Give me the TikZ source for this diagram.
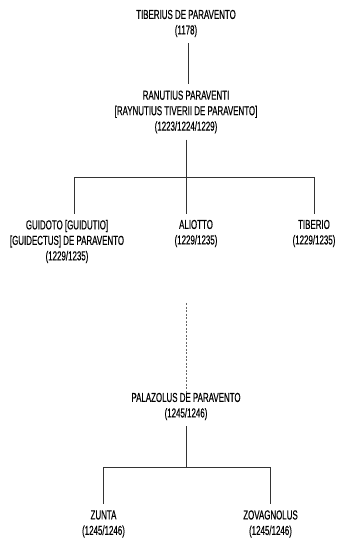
\documentclass[tikz,border=0pt]{standalone}
\usepackage{fontspec}
\setmainfont{Liberation Sans}[FakeStretch=0.61, FakeBold=0.4]
\usetikzlibrary{calc}

\begin{document}
\begin{tikzpicture}[x=1pt, y=-1pt]
    \tikzset{
        person/.style={align=center, inner xsep=0pt, inner ysep=6pt, font=\fontsize{13}{15.5}\selectfont},
        kin/.style={line width=0.9pt, color=black!80},
        unsure/.style={line width=0.9pt, color=black!60, dash pattern=on 2pt off 1.5pt}
    }
    \useasboundingbox (0,0) rectangle (341,543);
    % First generation
    \node[person] (tiberius) at (186, 23.5) {TIBERIUS DE PARAVENTO\\(1178)};
    \node[person] (ranutius) at (186, 112) {RANUTIUS PARAVENTI\\[0pt][RAYNUTIUS TIVERII DE PARAVENTO]\\(1223/1224/1229)};
    \draw[kin] (tiberius.south -| 188,0) -- (ranutius.north -| 188,0);
    % Sons of Ranutius
    \node[person] (guidoto) at (67, 241.5) {GUIDOTO [GUIDUTIO]\\[0pt][GUIDECTUS] DE PARAVENTO\\(1229/1235)};
    \node[person] (aliotto) at (196, 233.5) {ALIOTTO\\(1229/1235)};
    \node[person] (tiberio) at (314, 233.5) {TIBERIO\\(1229/1235)};
    \coordinate (forkA) at (74, 177);
    \coordinate (forkB) at (186, 177);
    \coordinate (forkC) at (314, 177);
    \draw[kin] (ranutius.south -| forkB) -- (forkB);
    \draw[kin] (forkA) -- (forkC);
    \draw[kin] (forkA) -- (forkA |- guidoto.north);
    \draw[kin] (forkB) -- (forkB |- aliotto.north);
    \draw[kin] (forkC) -- (forkC |- tiberio.north);
    % Gap in the line
    \node[person] (palazolus) at (186, 406.5) {PALAZOLUS DE PARAVENTO\\(1245/1246)};
    \coordinate (gap) at (186, 303);
    \draw[unsure] (gap) -- ([yshift=-6pt]palazolus.north);
    % Sons of Palazolus
    \node[person] (zunta) at (103.5, 524) {ZUNTA\\(1245/1246)};
    \node[person] (zovagnolus) at (270.5, 524) {ZOVAGNOLUS\\(1245/1246)};
    \coordinate (forkD) at (103, 467);
    \coordinate (forkE) at (186, 467);
    \coordinate (forkF) at (270, 467);
    \draw[kin] (palazolus.south) -- (forkE);
    \draw[kin] (forkD) -- (forkF);
    \draw[kin] (forkD) -- (forkD |- zunta.north);
    \draw[kin] (forkF) -- (forkF |- zovagnolus.north);
\end{tikzpicture}
\end{document}
